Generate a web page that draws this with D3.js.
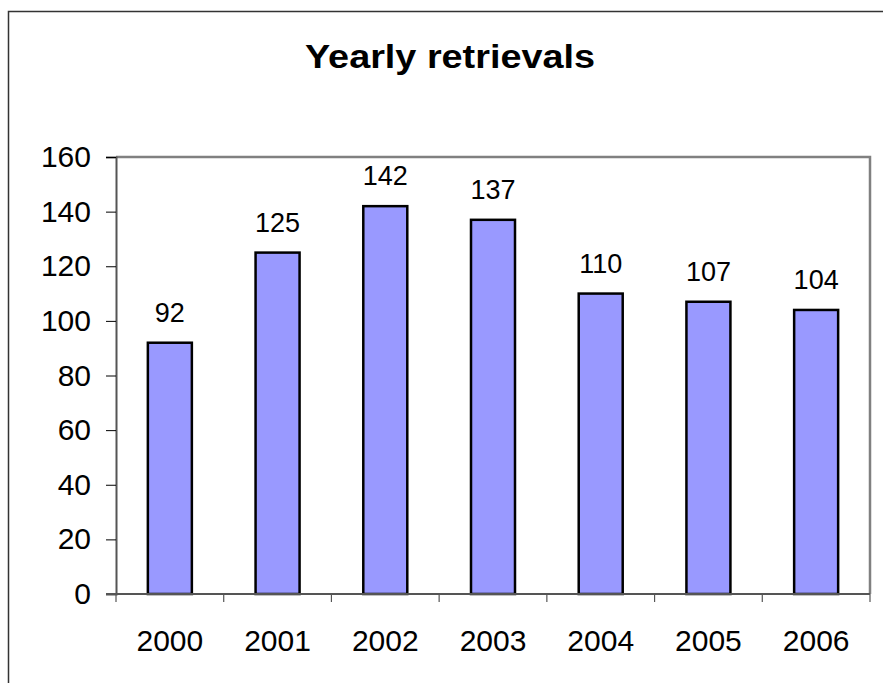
<!DOCTYPE html>
<html>
<head>
<meta charset="utf-8">
<script src="https://cdn.jsdelivr.net/npm/d3@7"></script>
<style>
  html, body { margin: 0; padding: 0; background: #fff; }
  svg { display: block; font-family: "Liberation Sans", Arial, sans-serif; }
</style>
</head>
<body>
<svg id="chart" width="883" height="683"></svg>
<script>
// Yearly retrieval counts
const years = ["2000", "2001", "2002", "2003", "2004", "2005", "2006"];
const retrievals = [92, 125, 142, 137, 110, 107, 104];
const yTicks = [0, 20, 40, 60, 80, 100, 120, 140, 160];
const chartTitle = "Yearly retrievals";

const svg = d3.select("#chart");
const plot = { left: 116, right: 870, top: 157, bottom: 594 };

// chart frame
svg.append("rect")
  .attr("x", 8.5).attr("y", 11.5)
  .attr("width", 880).attr("height", 680)
  .attr("fill", "#fff").attr("stroke", "#333").attr("stroke-width", 1.5);

svg.append("text")
  .attr("x", 450).attr("y", 68)
  .attr("text-anchor", "middle")
  .attr("font-size", 33).attr("font-weight", "bold")
  .attr("textLength", 290).attr("lengthAdjust", "spacingAndGlyphs")
  .text(chartTitle);

const x = d3.scaleBand().domain(years).range([plot.left, plot.right]).paddingInner(0).paddingOuter(0);
const y = d3.scaleLinear().domain([0, 160]).range([plot.bottom, plot.top]);

// plot area border (top and right in gray)
svg.append("path")
  .attr("d", `M${plot.left},${plot.top}H${plot.right}V${plot.bottom}`)
  .attr("fill", "none").attr("stroke", "#808080").attr("stroke-width", 2.5);

// bars
const barW = 44;
svg.append("g").selectAll("rect")
  .data(years)
  .join("rect")
  .attr("x", d => x(d) + x.bandwidth() / 2 - barW / 2)
  .attr("y", (d, i) => y(retrievals[i]))
  .attr("width", barW)
  .attr("height", (d, i) => y(0) - y(retrievals[i]))
  .attr("fill", "#9999ff")
  .attr("stroke", "#000").attr("stroke-width", 2.5);

// value labels
svg.append("g").selectAll("text")
  .data(years)
  .join("text")
  .attr("x", d => x(d) + x.bandwidth() / 2)
  .attr("y", (d, i) => y(retrievals[i]) - 21)
  .attr("text-anchor", "middle")
  .attr("font-size", 27)
  .text((d, i) => retrievals[i]);

// y axis
const yAxis = svg.append("g")
  .attr("transform", `translate(${plot.left},0)`)
  .call(d3.axisLeft(y).tickValues(yTicks).tickSize(10).tickPadding(15));
yAxis.select(".domain").attr("stroke", "#555").attr("stroke-width", 2);
yAxis.selectAll(".tick line").attr("stroke", "#000");
yAxis.selectAll("text").attr("font-size", 30).attr("fill", "#000")
  .attr("font-family", "'Liberation Sans', Arial, sans-serif");

// x axis with ticks on category boundaries
const xAxisG = svg.append("g").attr("transform", `translate(0,${plot.bottom})`);
xAxisG.append("line")
  .attr("x1", plot.left - 10).attr("x2", plot.right)
  .attr("stroke", "#555").attr("stroke-width", 2);
const bounds = years.map(d => x(d)).concat([plot.right]);
xAxisG.selectAll("line.tick")
  .data(bounds)
  .join("line").attr("class", "tick")
  .attr("x1", d => d).attr("x2", d => d)
  .attr("y1", 0).attr("y2", 8)
  .attr("stroke", "#555").attr("stroke-width", 1.2);
xAxisG.selectAll("text")
  .data(years)
  .join("text")
  .attr("x", d => x(d) + x.bandwidth() / 2)
  .attr("y", 57)
  .attr("text-anchor", "middle")
  .attr("font-size", 30)
  .text(d => d);
</script>
</body>
</html>
